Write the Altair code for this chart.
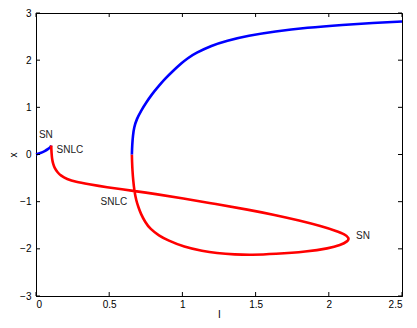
import altair as alt
import pandas as pd

# stable branch near origin (blue)
s1_I = [0.0, 0.03, 0.06, 0.085, 0.1, 0.104]
s1_x = [0.0, 0.03, 0.07, 0.12, 0.16, 0.19]

# unstable branch (red)
u_I = [0.104, 0.105, 0.107, 0.11, 0.117, 0.128, 0.145, 0.17, 0.21, 0.27, 0.36, 0.47, 0.675,
       0.81, 1.0, 1.23, 1.45, 1.63, 1.8, 1.95, 2.05, 2.11, 2.14, 2.13, 2.08, 2.0,
       1.85, 1.63, 1.47, 1.36, 1.23, 1.14, 1.01, 0.90, 0.84, 0.78, 0.745, 0.715, 0.70,
       0.685, 0.672, 0.664, 0.659, 0.656, 0.655]
u_x = [0.19, 0.1, 0.0, -0.1, -0.2, -0.29, -0.37, -0.45, -0.52, -0.58, -0.63, -0.69, -0.775,
       -0.835, -0.93, -1.05, -1.17, -1.28, -1.40, -1.52, -1.62, -1.69, -1.77, -1.84, -1.92, -1.99,
       -2.06, -2.11, -2.13, -2.12, -2.09, -2.05, -1.96, -1.82, -1.72, -1.58, -1.43, -1.25, -1.12,
       -0.98, -0.78, -0.55, -0.35, -0.15, 0.0]

# stable upper branch (blue)
s2_I = [0.655, 0.657, 0.662, 0.670, 0.688, 0.716, 0.752, 0.790, 0.835, 0.880, 0.935,
        0.995, 1.035, 1.09, 1.20, 1.30, 1.45, 1.63, 1.85, 2.1, 2.3, 2.5]
s2_x = [0.0, 0.2, 0.4, 0.58, 0.75, 0.92, 1.1, 1.27, 1.44, 1.6, 1.77,
        1.94, 2.04, 2.15, 2.31, 2.41, 2.52, 2.61, 2.69, 2.75, 2.79, 2.82]

label_text = ["SN", "SNLC", "SNLC", "SN"]
label_I = [0.02, 0.14, 0.441, 2.186]
label_x = [0.42, 0.09, -1.0, -1.72]

x_ticks = [0, 0.5, 1, 1.5, 2, 2.5]
y_ticks = [-3, -2, -1, 0, 1, 2, 3]

rows = []
k = 0
for seg, stab, Is, xs in [("a", "stable", s1_I, s1_x), ("b", "unstable", u_I, u_x),
                          ("c", "stable", s2_I, s2_x)]:
    for i, x in zip(Is, xs):
        rows.append({"I": i, "x": x, "seg": seg, "stab": stab, "k": k})
        k += 1
curve = pd.DataFrame(rows)
labels = pd.DataFrame({"t": label_text, "I": label_I, "x": label_x})
xt = pd.DataFrame({"v": x_ticks})
yt = pd.DataFrame({"v": y_ticks})

W, H = 366, 283
FONT = "Liberation Sans"

xscale = alt.Scale(domain=[0, 2.5], nice=False)
yscale = alt.Scale(domain=[-3, 3], nice=False)

line = alt.Chart(curve).mark_line(strokeWidth=2.6, interpolate="basis").encode(
    x=alt.X("I:Q", scale=xscale, title="I",
            axis=alt.Axis(values=x_ticks, ticks=False, grid=False, labelPadding=3,
                          titlePadding=0, format="~g")),
    y=alt.Y("x:Q", scale=yscale, title="x",
            axis=alt.Axis(values=y_ticks, ticks=False, grid=False, labelPadding=5,
                          titlePadding=1)),
    color=alt.Color("stab:N", scale=alt.Scale(domain=["stable", "unstable"],
                                               range=["#0000ff", "#ff0000"]), legend=None),
    detail="seg:N",
    order="k:Q",
)

text = alt.Chart(labels).mark_text(align="left", baseline="middle", fontSize=10,
                                   font=FONT, color="#222222").encode(
    x=alt.X("I:Q", scale=xscale), y=alt.Y("x:Q", scale=yscale), text="t:N")

tl = 4
bt = alt.Chart(xt).mark_rule(color="black", strokeWidth=1).encode(
    x=alt.X("v:Q", scale=xscale), y=alt.value(H), y2=alt.value(H - tl))
tt = alt.Chart(xt).mark_rule(color="black", strokeWidth=1).encode(
    x=alt.X("v:Q", scale=xscale), y=alt.value(0), y2=alt.value(tl))
lt = alt.Chart(yt).mark_rule(color="black", strokeWidth=1).encode(
    y=alt.Y("v:Q", scale=yscale), x=alt.value(0), x2=alt.value(tl))
rt = alt.Chart(yt).mark_rule(color="black", strokeWidth=1).encode(
    y=alt.Y("v:Q", scale=yscale), x=alt.value(W - tl), x2=alt.value(W))

chart = alt.layer(line, text, bt, tt, lt, rt).properties(
    width=W, height=H,
    autosize=alt.AutoSizeParams(type="none"),
    padding={"left": 28, "top": 5, "right": 7, "bottom": 23},
).configure_view(stroke="black", strokeWidth=1).configure_axis(
    domainColor="black", labelColor="black", titleColor="black",
    labelFont=FONT, titleFont=FONT, labelFontSize=10, titleFontSize=10,
    titleFontWeight="normal",
)

chart.save("out.html", embed_options={"renderer": "svg", "actions": False})
